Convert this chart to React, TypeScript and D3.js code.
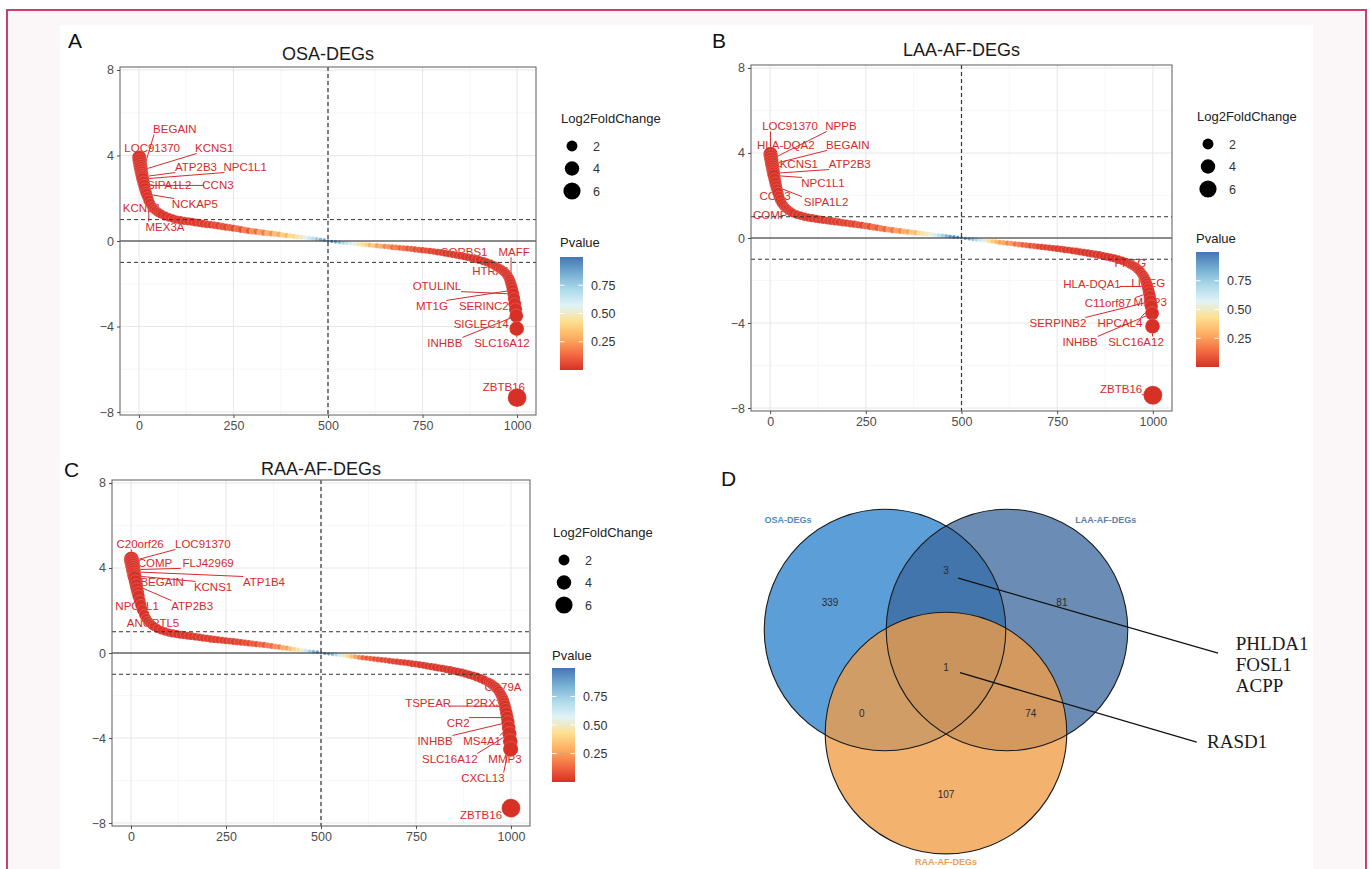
import React, { useEffect, useRef } from "react";
import * as d3 from "d3";

// gene rank (x position) of every drawn point, shared by panels A-C
const ranks = [
  1, 2, 3, 4, 5, 6, 7, 8, 9, 10,
  12, 14, 16, 18, 20, 23, 26, 30, 35, 40, 45, 50, 55, 60,
  70, 80, 90, 100, 110, 120, 130, 140, 150, 160, 170, 180, 190, 200,
  210, 220, 230, 240, 250, 260, 270, 280, 290, 300,
  310, 320, 330, 340, 350, 360, 370, 380, 390, 400,
  410, 420, 430, 440, 450, 460, 470, 480, 490, 500,
  510, 520, 530, 540, 550, 560, 570, 580, 590, 600,
  610, 620, 630, 640, 650, 660, 670, 680, 690, 700,
  710, 720, 730, 740, 750, 760, 770, 780, 790, 800,
  810, 820, 830, 840, 850, 860, 870, 880, 890, 900,
  910, 920, 930, 940, 945, 950, 955, 960, 964, 968, 972, 975, 978, 980, 982, 984, 986, 988, 990, 992, 994, 996, 998, 999, 1000,
];

// A: OSA-DEGs
const osaFC = [
  3.9, 3.75, 3.62, 3.5, 3.4, 3.3, 3.2, 3.1, 3.0, 2.9,
  2.75, 2.6, 2.45, 2.3, 2.2, 2.05, 1.9, 1.75, 1.6, 1.5, 1.42, 1.35, 1.3, 1.25,
  1.17, 1.1, 1.05, 1.0, 0.97, 0.94, 0.92, 0.9, 0.87, 0.84, 0.81, 0.78, 0.76, 0.74,
  0.71, 0.68, 0.65, 0.63, 0.6, 0.57, 0.54, 0.51, 0.48, 0.46,
  0.44, 0.41, 0.39, 0.37, 0.35, 0.33, 0.31, 0.28, 0.26, 0.24,
  0.22, 0.2, 0.18, 0.16, 0.14, 0.11, 0.09, 0.07, 0.04, 0.01,
  -0.02, -0.04, -0.06, -0.08, -0.1, -0.11, -0.13, -0.15, -0.16, -0.18,
  -0.19, -0.21, -0.22, -0.24, -0.25, -0.27, -0.29, -0.3, -0.32, -0.34,
  -0.35, -0.37, -0.39, -0.41, -0.43, -0.45, -0.47, -0.49, -0.52, -0.54,
  -0.57, -0.6, -0.63, -0.66, -0.69, -0.72, -0.76, -0.8, -0.84, -0.89,
  -0.94, -1.0, -1.07, -1.15, -1.2, -1.25, -1.3, -1.36, -1.42, -1.48, -1.56, -1.63, -1.72, -1.8, -1.9, -2.02, -2.15, -2.3, -2.48, -2.7, -2.95, -3.2, -3.5, -4.1, -7.33,
];
const osaP = [
  0.001, 0.002, 0.001, 0.003, 0.002, 0.004, 0.002, 0.003, 0.005, 0.002,
  0.004, 0.006, 0.003, 0.005, 0.004, 0.007, 0.005, 0.008, 0.006, 0.01, 0.008, 0.012, 0.009, 0.011,
  0.01, 0.015, 0.012, 0.02, 0.015, 0.022, 0.018, 0.025, 0.02, 0.03, 0.025, 0.04, 0.03, 0.06,
  0.04, 0.08, 0.05, 0.1, 0.06, 0.14, 0.08, 0.18, 0.1, 0.22,
  0.14, 0.26, 0.18, 0.3, 0.22, 0.34, 0.28, 0.38, 0.32, 0.42,
  0.4, 0.48, 0.5, 0.56, 0.62, 0.68, 0.75, 0.82, 0.9, 0.96,
  0.94, 0.88, 0.8, 0.72, 0.66, 0.6, 0.55, 0.5, 0.44, 0.4,
  0.32, 0.38, 0.26, 0.3, 0.2, 0.24, 0.15, 0.18, 0.12, 0.14,
  0.09, 0.11, 0.07, 0.09, 0.05, 0.07, 0.04, 0.05, 0.03, 0.04,
  0.02, 0.025, 0.018, 0.02, 0.015, 0.012, 0.014, 0.01, 0.012, 0.008,
  0.006, 0.005, 0.006, 0.004, 0.005, 0.004, 0.003, 0.004, 0.003, 0.002, 0.003, 0.002, 0.002, 0.001, 0.002, 0.001, 0.001, 0.002, 0.001, 0.001, 0.001, 0.001, 0.001, 0.001, 0.001,
];

// B: LAA-AF-DEGs
const laaFC = [
  3.95, 3.82, 3.7, 3.58, 3.47, 3.36, 3.25, 3.14, 3.04, 2.94,
  2.76, 2.58, 2.42, 2.27, 2.13, 1.95, 1.8, 1.65, 1.52, 1.42, 1.35, 1.28, 1.22, 1.17,
  1.1, 1.05, 1.0, 0.96, 0.93, 0.9, 0.87, 0.85, 0.82, 0.8, 0.77, 0.75, 0.72, 0.7,
  0.67, 0.65, 0.62, 0.6, 0.57, 0.54, 0.51, 0.48, 0.45, 0.42,
  0.4, 0.37, 0.35, 0.33, 0.31, 0.29, 0.27, 0.25, 0.23, 0.21,
  0.19, 0.17, 0.15, 0.13, 0.11, 0.09, 0.07, 0.05, 0.03, 0.01,
  -0.02, -0.04, -0.06, -0.08, -0.1, -0.12, -0.14, -0.16, -0.18, -0.2,
  -0.22, -0.24, -0.26, -0.28, -0.3, -0.32, -0.34, -0.36, -0.38, -0.4,
  -0.42, -0.44, -0.46, -0.48, -0.5, -0.52, -0.55, -0.57, -0.6, -0.62,
  -0.65, -0.68, -0.71, -0.74, -0.77, -0.8, -0.84, -0.88, -0.92, -0.96,
  -1.01, -1.07, -1.14, -1.22, -1.27, -1.32, -1.38, -1.45, -1.52, -1.6, -1.7, -1.78, -1.88, -1.96, -2.05, -2.16, -2.28, -2.42, -2.58, -2.76, -2.98, -3.22, -3.55, -4.15, -7.4,
];
const laaP = [
  0.001, 0.001, 0.002, 0.001, 0.003, 0.002, 0.002, 0.004, 0.003, 0.002,
  0.005, 0.003, 0.006, 0.004, 0.005, 0.008, 0.006, 0.009, 0.007, 0.012, 0.01, 0.014, 0.011, 0.013,
  0.015, 0.012, 0.02, 0.016, 0.024, 0.02, 0.03, 0.024, 0.034, 0.028, 0.04, 0.032, 0.05, 0.04,
  0.06, 0.045, 0.08, 0.05, 0.11, 0.07, 0.14, 0.09, 0.18, 0.12,
  0.22, 0.16, 0.26, 0.2, 0.3, 0.26, 0.36, 0.32, 0.42, 0.46,
  0.5, 0.54, 0.6, 0.66, 0.74, 0.82, 0.9, 0.95, 0.98, 0.97,
  0.92, 0.86, 0.78, 0.7, 0.62, 0.54, 0.46, 0.38, 0.32, 0.26,
  0.28, 0.2, 0.24, 0.15, 0.18, 0.11, 0.13, 0.08, 0.1, 0.06,
  0.045, 0.035, 0.04, 0.03, 0.025, 0.03, 0.02, 0.025, 0.018, 0.02,
  0.015, 0.012, 0.014, 0.01, 0.012, 0.008, 0.009, 0.007, 0.008, 0.006,
  0.005, 0.006, 0.004, 0.005, 0.004, 0.003, 0.004, 0.003, 0.003, 0.002, 0.002, 0.002, 0.001, 0.002, 0.001, 0.001, 0.001, 0.001, 0.001, 0.001, 0.001, 0.001, 0.001, 0.001, 0.001,
];

// C: RAA-AF-DEGs
const raaFC = [
  4.42, 4.32, 4.22, 4.12, 4.02, 3.92, 3.82, 3.72, 3.63, 3.54,
  3.36, 3.18, 3.0, 2.83, 2.67, 2.45, 2.25, 2.02, 1.8, 1.62, 1.5, 1.4, 1.32, 1.25,
  1.15, 1.07, 1.01, 0.96, 0.92, 0.89, 0.86, 0.84, 0.81, 0.79, 0.76, 0.74, 0.71, 0.69,
  0.66, 0.64, 0.62, 0.6, 0.58, 0.56, 0.54, 0.52, 0.5, 0.48,
  0.46, 0.44, 0.42, 0.4, 0.38, 0.35, 0.33, 0.3, 0.28, 0.25,
  0.23, 0.2, 0.18, 0.15, 0.13, 0.11, 0.08, 0.06, 0.04, 0.01,
  -0.02, -0.04, -0.06, -0.08, -0.1, -0.12, -0.14, -0.16, -0.18, -0.2,
  -0.22, -0.24, -0.26, -0.28, -0.3, -0.32, -0.34, -0.37, -0.39, -0.41,
  -0.43, -0.45, -0.47, -0.5, -0.52, -0.55, -0.58, -0.61, -0.64, -0.67,
  -0.7, -0.73, -0.77, -0.8, -0.84, -0.88, -0.92, -0.97, -1.02, -1.07,
  -1.13, -1.2, -1.28, -1.37, -1.42, -1.48, -1.55, -1.63, -1.71, -1.8, -1.92, -2.02, -2.14, -2.24, -2.36, -2.5, -2.66, -2.84, -3.04, -3.26, -3.52, -3.8, -4.15, -4.52, -7.3,
];
const raaP = [
  0.001, 0.001, 0.001, 0.002, 0.001, 0.002, 0.003, 0.002, 0.001, 0.003,
  0.002, 0.004, 0.003, 0.005, 0.004, 0.006, 0.005, 0.007, 0.006, 0.008, 0.007, 0.009, 0.008, 0.01,
  0.009, 0.011, 0.01, 0.013, 0.012, 0.015, 0.013, 0.018, 0.015, 0.02, 0.018, 0.024, 0.02, 0.028,
  0.024, 0.032, 0.028, 0.038, 0.032, 0.045, 0.038, 0.055, 0.045, 0.065,
  0.06, 0.1, 0.08, 0.13, 0.1, 0.17, 0.14, 0.22, 0.18, 0.28,
  0.26, 0.34, 0.4, 0.46, 0.54, 0.62, 0.72, 0.82, 0.9, 0.96,
  0.94, 0.88, 0.8, 0.7, 0.6, 0.5, 0.42, 0.34, 0.26, 0.2,
  0.12, 0.09, 0.11, 0.07, 0.08, 0.05, 0.06, 0.04, 0.045, 0.03,
  0.035, 0.025, 0.028, 0.02, 0.022, 0.016, 0.018, 0.013, 0.015, 0.011,
  0.012, 0.009, 0.01, 0.008, 0.009, 0.007, 0.006, 0.007, 0.005, 0.006,
  0.005, 0.004, 0.005, 0.003, 0.004, 0.003, 0.003, 0.002, 0.003, 0.002, 0.002, 0.002, 0.001, 0.002, 0.001, 0.001, 0.001, 0.001, 0.001, 0.001, 0.001, 0.001, 0.001, 0.001, 0.001,
];

// gene labels: [gene, point rank, point log2FC, label rank, label log2FC]
const osaLabels = [
  ["BEGAIN", 8, 3.1, 95, 5.24],
  ["LOC91370", 1, 3.9, 35, 4.35],
  ["KCNS1", 6, 3.3, 199, 4.35],
  ["ATP2B3", 9, 3.0, 151, 3.46],
  ["NPC1L1", 10, 2.9, 281, 3.46],
  ["SIPA1L2", 12, 2.75, 80, 2.62],
  ["CCN3", 14, 2.6, 209, 2.62],
  ["NCKAP5", 20, 2.2, 148, 1.73],
  ["KCNE1", 23, 2.05, 8, 1.54],
  ["MEX3A", 26, 1.9, 69, 0.65],
  ["SORBS1", 960, -1.36, 860, -0.51],
  ["MAFF", 984, -2.02, 992, -0.51],
  ["HTRA1", 982, -1.9, 931, -1.4],
  ["OTULINL", 990, -2.48, 788, -2.11],
  ["MT1G", 988, -2.3, 775, -3.04],
  ["SERINC2", 994, -2.95, 912, -3.04],
  ["SIGLEC14", 996, -3.2, 905, -3.88],
  ["INHBB", 998, -3.5, 809, -4.77],
  ["SLC16A12", 999, -4.1, 960, -4.77],
  ["ZBTB16", 1000, -7.33, 965, -6.83],
];
const laaLabels = [
  ["LOC91370", 1, 3.95, 52, 5.27],
  ["NPPB", 3, 3.7, 185, 5.27],
  ["HLA-DQA2", 2, 3.82, 41, 4.38],
  ["BEGAIN", 5, 3.47, 203, 4.38],
  ["KCNS1", 6, 3.36, 75, 3.48],
  ["ATP2B3", 9, 3.04, 208, 3.48],
  ["NPC1L1", 10, 2.94, 138, 2.59],
  ["CCN3", 12, 2.76, 13, 1.98],
  ["SIPA1L2", 16, 2.42, 146, 1.69],
  ["COMP", 30, 1.65, 0, 1.08],
  ["PRTG", 972, -1.7, 941, -1.18],
  ["LIPEG", 980, -1.96, 988, -2.12],
  ["MMP3", 992, -2.76, 993, -3.01],
  ["HLA-DQA1", 986, -2.28, 841, -2.16],
  ["C11orf87", 990, -2.58, 883, -3.06],
  ["SERPINB2", 994, -2.98, 752, -4.0],
  ["HPCAL4", 996, -3.22, 914, -4.0],
  ["INHBB", 998, -3.55, 810, -4.89],
  ["SLC16A12", 999, -4.15, 956, -4.89],
  ["ZBTB16", 1000, -7.4, 917, -7.11],
];
const raaLabels = [
  ["C20orf26", 1, 4.42, 24, 5.13],
  ["LOC91370", 2, 4.32, 189, 5.13],
  ["COMP", 4, 4.12, 63, 4.24],
  ["FLJ42969", 6, 3.92, 203, 4.24],
  ["BEGAIN", 8, 3.72, 82, 3.34],
  ["KCNS1", 9, 3.63, 216, 3.11],
  ["ATP1B4", 7, 3.82, 350, 3.34],
  ["NPC1L1", 12, 3.36, 16, 2.21],
  ["ATP2B3", 14, 3.18, 161, 2.21],
  ["ANGPTL5", 26, 2.25, 58, 1.41],
  ["CD79A", 972, -1.92, 979, -1.6],
  ["TSPEAR", 984, -2.5, 782, -2.35],
  ["P2RX3", 988, -2.84, 929, -2.35],
  ["CR2", 990, -3.04, 861, -3.29],
  ["INHBB", 992, -3.26, 800, -4.14],
  ["MS4A1", 994, -3.52, 924, -4.14],
  ["SLC16A12", 996, -3.8, 839, -4.99],
  ["MMP3", 999, -4.52, 984, -4.99],
  ["CXCL13", 998, -4.15, 926, -5.88],
  ["ZBTB16", 1000, -7.3, 921, -7.62],
];

const xTicks = [0, 250, 500, 750, 1000];
const xMinor = [125, 375, 625, 875];
const yTicks = [-8, -4, 0, 4, 8];
const yMinor = [-6, -2, 2, 6];
const sizeBreaks = [2, 4, 6];
const pBreaks = [0.25, 0.5, 0.75];

// Venn (D)
const vennSets = ["OSA-DEGs", "LAA-AF-DEGs", "RAA-AF-DEGs"];
const vennCounts = [339, 81, 107, 3, 0, 74, 1]; // OSA, LAA, RAA, OSA&LAA, OSA&RAA, LAA&RAA, all
const sharedOsaLaa = ["PHLDA1", "FOSL1", "ACPP"];
const sharedAll = ["RASD1"];

const SANS = "'Liberation Sans', Arial, Helvetica, sans-serif";
const SERIF = "'Liberation Serif', 'Times New Roman', serif";
const LABEL_RED = "#d62a2a";

const pColors = ["#d73027", "#f46d43", "#fdae61", "#fee090", "#e0f3f8", "#abd9e9", "#74add1", "#4575b4"];
const colorScale = d3
  .scaleLinear<string>()
  .domain(pColors.map((_, i) => i / (pColors.length - 1)))
  .range(pColors);
// ggplot-like area scale with a small floor so the flat middle stays visible
const sizeScale = d3.scaleSqrt().domain([0, 6]).range([0, 7.4]);
const radius = (v: number) => 1.2 + sizeScale(Math.abs(v));

const panels = [
  {
    id: "A", title: "OSA-DEGs", fc: osaFC, p: osaP, labels: osaLabels,
    left: 120, right: 536, top: 67, bottom: 415, titleY: 60, letterX: 68, letterY: 48,
    legX: 561, legY: 123, pvalY: 247, barTop: 257, barBottom: 370,
  },
  {
    id: "B", title: "LAA-AF-DEGs", fc: laaFC, p: laaP, labels: laaLabels,
    left: 751, right: 1172, top: 65, bottom: 411, titleY: 56, letterX: 712, letterY: 48,
    legX: 1197, legY: 121, pvalY: 243, barTop: 252, barBottom: 367,
  },
  {
    id: "C", title: "RAA-AF-DEGs", fc: raaFC, p: raaP, labels: raaLabels,
    left: 112, right: 530, top: 480, bottom: 826, titleY: 475, letterX: 64, letterY: 477,
    legX: 553, legY: 537, pvalY: 660, barTop: 668, barBottom: 782,
  },
];

function drawPanel(svg: any, cfg: any) {
  const g = svg.append("g");
  const x = d3.scaleLinear().domain([-50, 1050]).range([cfg.left, cfg.right]);
  const y = d3.scaleLinear().domain([-8.14, 8.14]).range([cfg.bottom, cfg.top]);

  // grid
  g.selectAll(".vminor").data(xMinor).enter().append("line")
    .attr("x1", (d) => x(d)).attr("x2", (d) => x(d)).attr("y1", cfg.top).attr("y2", cfg.bottom)
    .attr("stroke", "#f3f3f3").attr("stroke-width", 0.7);
  g.selectAll(".hminor").data(yMinor).enter().append("line")
    .attr("x1", cfg.left).attr("x2", cfg.right).attr("y1", (d) => y(d)).attr("y2", (d) => y(d))
    .attr("stroke", "#f3f3f3").attr("stroke-width", 0.7);
  g.selectAll(".vmajor").data(xTicks).enter().append("line")
    .attr("x1", (d) => x(d)).attr("x2", (d) => x(d)).attr("y1", cfg.top).attr("y2", cfg.bottom)
    .attr("stroke", "#e8e8e8").attr("stroke-width", 1.1);
  g.selectAll(".hmajor").data(yTicks).enter().append("line")
    .attr("x1", cfg.left).attr("x2", cfg.right).attr("y1", (d) => y(d)).attr("y2", (d) => y(d))
    .attr("stroke", "#e8e8e8").attr("stroke-width", 1.1);

  // repelled gene labels (drawn under the points, as in the original)
  const lab = g.append("g");
  cfg.labels.forEach(([gene, pr, pv, lr, lv]: any) => {
    const tx = x(lr), ty = y(lv), px = x(pr), py = y(pv);
    const hw = gene.length * 3.3 + 1, hh = 5.5;
    const bx = Math.max(tx - hw, Math.min(px, tx + hw));
    const by = Math.max(ty - hh, Math.min(py, ty + hh));
    if (Math.hypot(px - bx, py - by) > 5) {
      lab.append("line").attr("x1", bx).attr("y1", by).attr("x2", px).attr("y2", py)
        .attr("stroke", LABEL_RED).attr("stroke-width", 1);
    }
    lab.append("text").attr("x", tx).attr("y", ty).attr("dy", "0.36em")
      .attr("text-anchor", "middle").attr("font-family", SANS).attr("font-size", 11.5)
      .attr("fill", LABEL_RED).text(gene);
  });

  // points
  const pts = ranks.map((r, i) => ({ r, v: cfg.fc[i], p: cfg.p[i] })).filter((d) => d.v !== undefined);
  g.append("g").selectAll("circle").data(pts).enter().append("circle")
    .attr("cx", (d: any) => x(d.r)).attr("cy", (d: any) => y(d.v)).attr("r", (d: any) => radius(d.v))
    .attr("fill", (d: any) => colorScale(d.p))
    .attr("stroke", "rgba(255,255,255,0.35)").attr("stroke-width", 0.5);

  // reference lines
  g.append("line").attr("x1", cfg.left).attr("x2", cfg.right).attr("y1", y(0)).attr("y2", y(0))
    .attr("stroke", "#222").attr("stroke-width", 1.1);
  [-1, 1].forEach((v) => {
    g.append("line").attr("x1", cfg.left).attr("x2", cfg.right).attr("y1", y(v)).attr("y2", y(v))
      .attr("stroke", "#333").attr("stroke-width", 1).attr("stroke-dasharray", "4,3");
  });
  g.append("line").attr("x1", x(500)).attr("x2", x(500)).attr("y1", cfg.top).attr("y2", cfg.bottom)
    .attr("stroke", "#333").attr("stroke-width", 1.2).attr("stroke-dasharray", "4,3");

  // panel border
  g.append("rect").attr("x", cfg.left).attr("y", cfg.top)
    .attr("width", cfg.right - cfg.left).attr("height", cfg.bottom - cfg.top)
    .attr("fill", "none").attr("stroke", "#6b6b6b").attr("stroke-width", 1.1);

  // axes
  const yAxis = g.append("g").attr("transform", `translate(${cfg.left},0)`)
    .call(d3.axisLeft(y).tickValues(yTicks).tickSize(3).tickPadding(3).tickFormat(d3.format("d")));
  const xAxis = g.append("g").attr("transform", `translate(0,${cfg.bottom})`)
    .call(d3.axisBottom(x).tickValues(xTicks).tickSize(3).tickPadding(3).tickFormat(d3.format("d")));
  [xAxis, yAxis].forEach((a) => {
    a.select(".domain").remove();
    a.selectAll("line").attr("stroke", "#4d4d4d");
    a.selectAll("text").attr("fill", "#4d4d4d").attr("font-size", 12.5).attr("font-family", SANS);
  });

  // title and panel letter
  svg.append("text").attr("x", (cfg.left + cfg.right) / 2).attr("y", cfg.titleY)
    .attr("text-anchor", "middle").attr("font-family", SANS).attr("font-size", 18)
    .attr("fill", "#1a1a1a").text(cfg.title);
  svg.append("text").attr("x", cfg.letterX).attr("y", cfg.letterY)
    .attr("font-family", SANS).attr("font-size", 21).attr("fill", "#111").text(cfg.id);

  // size legend
  const leg = svg.append("g");
  leg.append("text").attr("x", cfg.legX).attr("y", cfg.legY).attr("font-family", SANS)
    .attr("font-size", 13).attr("fill", "#222").text("Log2FoldChange");
  sizeBreaks.forEach((s, i) => {
    const cy = cfg.legY + 23 + i * 22.5;
    leg.append("circle").attr("cx", cfg.legX + 11).attr("cy", cy).attr("r", radius(s)).attr("fill", "#000");
    leg.append("text").attr("x", cfg.legX + 32).attr("y", cy).attr("dy", "0.36em")
      .attr("font-family", SANS).attr("font-size", 12.5).attr("fill", "#333").text(s);
  });

  // colour bar
  const gradId = `pgrad-${cfg.id}`;
  const grad = svg.append("defs").append("linearGradient").attr("id", gradId)
    .attr("x1", 0).attr("y1", 1).attr("x2", 0).attr("y2", 0);
  pColors.forEach((c, i) => {
    grad.append("stop").attr("offset", i / (pColors.length - 1)).attr("stop-color", c);
  });
  leg.append("text").attr("x", cfg.legX - 1).attr("y", cfg.pvalY).attr("font-family", SANS)
    .attr("font-size", 13).attr("fill", "#222").text("Pvalue");
  const barX = cfg.legX - 1, barW = 23;
  const py = d3.scaleLinear().domain([0, 1]).range([cfg.barBottom, cfg.barTop]);
  leg.append("rect").attr("x", barX).attr("y", cfg.barTop).attr("width", barW)
    .attr("height", cfg.barBottom - cfg.barTop).attr("fill", `url(#${gradId})`);
  pBreaks.forEach((b) => {
    leg.append("line").attr("x1", barX).attr("x2", barX + 4.5).attr("y1", py(b)).attr("y2", py(b))
      .attr("stroke", "#fff").attr("stroke-width", 1);
    leg.append("line").attr("x1", barX + barW - 4.5).attr("x2", barX + barW).attr("y1", py(b)).attr("y2", py(b))
      .attr("stroke", "#fff").attr("stroke-width", 1);
    leg.append("text").attr("x", barX + barW + 8).attr("y", py(b)).attr("dy", "0.36em")
      .attr("font-family", SANS).attr("font-size", 12.5).attr("fill", "#333").text(b.toFixed(2));
  });
}

function drawVenn(svg: any) {
  // venn layout in units of half the centre distance
  const vx = d3.scaleLinear().domain([0, 1]).range([946, 1007]);
  const vy = d3.scaleLinear().domain([0, 1]).range([630, 691]);
  const unit = 61;
  const circles = [
    { cx: -1, cy: 0, fill: "rgb(37,127,203)", op: 0.75 },
    { cx: 1, cy: 0, fill: "rgb(57,103,156)", op: 0.75 },
    { cx: 0, cy: 1.69, fill: "rgb(240,157,70)", op: 0.785 },
  ];
  const r = 1.98 * unit;
  const g = svg.append("g");
  circles.forEach((c) => {
    g.append("circle").attr("cx", vx(c.cx)).attr("cy", vy(c.cy)).attr("r", r)
      .attr("fill", c.fill).attr("fill-opacity", c.op);
  });
  circles.forEach((c) => {
    g.append("circle").attr("cx", vx(c.cx)).attr("cy", vy(c.cy)).attr("r", r)
      .attr("fill", "none").attr("stroke", "#1a1a1a").attr("stroke-width", 1.1);
  });

  const countPos = [[-1.9, -0.46], [1.9, -0.46], [0, 2.7], [0, -0.97], [-1.38, 1.36], [1.39, 1.36], [0, 0.61]];
  vennCounts.forEach((n, i) => {
    g.append("text").attr("x", vx(countPos[i][0])).attr("y", vy(countPos[i][1])).attr("dy", "0.36em")
      .attr("text-anchor", "middle").attr("font-family", SANS).attr("font-size", 10)
      .attr("fill", "#2a2a2a").text(n);
  });

  const setPos = [[-2.59, -1.8], [2.62, -1.8], [0, 3.8]];
  const setColor = ["#4d8bc9", "#5f80a8", "#e99d58"];
  vennSets.forEach((s, i) => {
    g.append("text").attr("x", vx(setPos[i][0])).attr("y", vy(setPos[i][1])).attr("dy", "0.36em")
      .attr("text-anchor", "middle").attr("font-family", SANS).attr("font-size", 9)
      .attr("font-weight", "bold").attr("fill", setColor[i]).text(s);
  });

  // callouts
  const callouts = [
    { from: [0.2, -0.85], to: [4.46, 0.38], text: [4.75, 0.33], genes: sharedOsaLaa },
    { from: [0.23, 0.7], to: [4.11, 1.84], text: [4.28, 1.93], genes: sharedAll },
  ];
  callouts.forEach((c) => {
    g.append("line").attr("x1", vx(c.from[0])).attr("y1", vy(c.from[1]))
      .attr("x2", vx(c.to[0])).attr("y2", vy(c.to[1]))
      .attr("stroke", "#111").attr("stroke-width", 1.3);
    c.genes.forEach((gene, i) => {
      g.append("text").attr("x", vx(c.text[0])).attr("y", vy(c.text[1]) + i * 21)
        .attr("font-family", SERIF).attr("font-size", 19).attr("fill", "#1a1a1a").text(gene);
    });
  });

  svg.append("text").attr("x", 721).attr("y", 486).attr("font-family", SANS)
    .attr("font-size", 21).attr("fill", "#111").text("D");
}

const App = () => {
  const svgRef = useRef<SVGSVGElement>(null);
  const width = 1370;
  const height = 869;

  useEffect(() => {
    const svg = d3.select(svgRef.current);
    svg.selectAll("*").remove();

    // page frame
    svg.append("rect").attr("width", width).attr("height", height).attr("fill", "#fff");
    svg.append("rect").attr("x", 7).attr("y", 10).attr("width", 1359).attr("height", 880)
      .attr("fill", "#fbf7f9").attr("stroke", "#cc3f6c").attr("stroke-width", 2);
    svg.append("rect").attr("x", 60).attr("y", 25).attr("width", 1253).attr("height", 860).attr("fill", "#fff");

    panels.forEach((cfg) => drawPanel(svg, cfg));
    drawVenn(svg);
  }, []);

  return (
    <svg
      ref={svgRef}
      width={width}
      height={height}
      style={{ position: "absolute", left: 0, top: 0, display: "block" }}
    ></svg>
  );
};

export default App;
